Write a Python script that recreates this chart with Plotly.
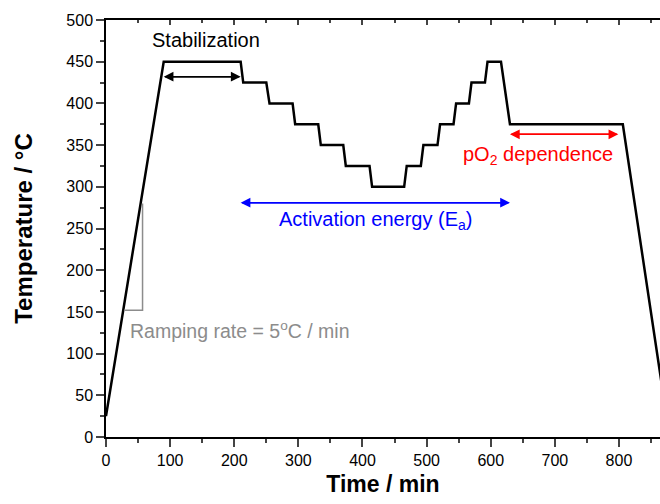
import plotly.graph_objects as go

# Temperature program (time in min, temperature in °C)
time_min = [0, 90, 210, 214, 250, 255, 291, 295, 331, 335, 370, 374, 411, 415,
            465, 469, 491, 495, 517, 521, 542, 546, 566, 570, 591, 595, 616,
            630, 806, 879]
temp_c = [25, 450, 450, 425, 425, 400, 400, 375, 375, 350, 350, 325, 325, 300,
          300, 325, 325, 350, 350, 375, 375, 400, 400, 425, 425, 450, 450,
          375, 375, 0]

# Ramping-rate guide (gray right triangle)
ramp_x = [28, 57, 57]
ramp_y = [152, 152, 280]

# Range arrows: [start, end, level]
stab_arrow = [90, 210, 432]
ea_arrow = [210, 630, 281]
po2_arrow = [630, 799, 363]

FONT = "Arial, Liberation Sans, sans-serif"

fig = go.Figure()
fig.add_trace(go.Scatter(x=time_min, y=temp_c, mode="lines",
                         line=dict(color="black", width=2.5), showlegend=False,
                         hoverinfo="skip"))
fig.add_trace(go.Scatter(x=ramp_x, y=ramp_y, mode="lines",
                         line=dict(color="#8c8c8c", width=1.5), showlegend=False,
                         hoverinfo="skip"))
# dummy trace for top axis
fig.add_trace(go.Scatter(x=[0], y=[0], xaxis="x2", mode="markers",
                         marker=dict(opacity=0), showlegend=False, hoverinfo="skip"))

def double_arrow(a, color):
    x0, x1, yv = a
    for xs, xe in ((x0, x1), (x1, x0)):
        fig.add_annotation(x=xe, y=yv, ax=xs, ay=yv, xref="x", yref="y",
                           axref="x", ayref="y", text="", showarrow=True,
                           arrowhead=2, arrowsize=1.3, arrowwidth=1.5,
                           arrowcolor=color)

double_arrow(stab_arrow, "black")
double_arrow(ea_arrow, "#0000ff")
double_arrow(po2_arrow, "#ff0000")

fig.add_annotation(x=156, y=476, text="Stabilization", showarrow=False,
                   font=dict(family=FONT, size=20, color="black"))
fig.add_annotation(x=421, y=260, text="Activation energy (E<sub>a</sub>)",
                   showarrow=False, font=dict(family=FONT, size=20, color="#0000ff"))
fig.add_annotation(x=674, y=338, text="pO<sub>2</sub> dependence",
                   showarrow=False, font=dict(family=FONT, size=20, color="#ff0000"))
fig.add_annotation(x=34, y=128, text="Ramping rate = 5<sup>o</sup>C / min",
                   showarrow=False, xanchor="left",
                   font=dict(family=FONT, size=19.5, color="#8c8c8c"))

fig.update_layout(
    width=660, height=504,
    margin=dict(l=106, r=0, t=20, b=67),
    paper_bgcolor="white", plot_bgcolor="white",
    font=dict(family=FONT, color="black"),
    xaxis=dict(range=[0, 864], dtick=100, tick0=0, ticks="outside", ticklen=8,
               tickwidth=1.5, showline=True, linecolor="black", linewidth=1.5,
               showgrid=False, zeroline=False, tickfont=dict(size=16),
               minor=dict(dtick=50, ticks="outside", ticklen=4, tickwidth=1.5),
               title=dict(text="<b>Time / min</b>", font=dict(size=23), standoff=8)),
    xaxis2=dict(range=[0, 864], overlaying="x", side="top", anchor="y",
                dtick=100, tick0=0, ticks="inside", ticklen=5, tickwidth=1.5,
                showline=True, linecolor="black", linewidth=1.5,
                showticklabels=False, showgrid=False, zeroline=False,
                minor=dict(dtick=50, ticks="inside", ticklen=3, tickwidth=1.5)),
    yaxis=dict(range=[0, 500], dtick=50, tick0=0, ticks="outside", ticklen=8,
               tickwidth=1.5, showline=True, linecolor="black", linewidth=1.5,
               showgrid=False, zeroline=False, tickfont=dict(size=16),
               minor=dict(dtick=25, ticks="outside", ticklen=4, tickwidth=1.5),
               title=dict(text="<b>Temperature / °C</b>", font=dict(size=24), standoff=27)),
)

fig.write_html("out.html", config={"displayModeBar": False},
               post_script="document.body.style.margin='0';document.body.style.overflow='hidden';")
